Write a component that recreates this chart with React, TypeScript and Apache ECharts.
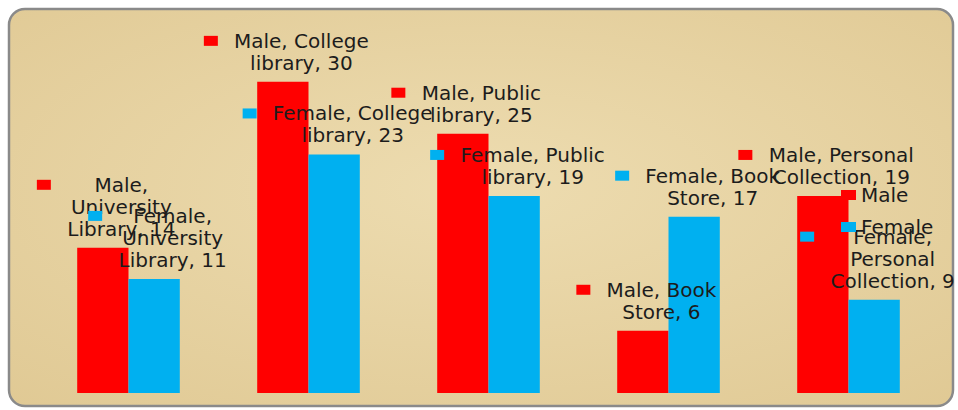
import React, { useEffect, useRef } from "react";
import * as echarts from "echarts";

const categories = ["University Library", "College library", "Public library", "Book Store", "Personal Collection"];
const seriesNames = ["Male", "Female"];
const maleValues = [14, 30, 25, 6, 19];
const femaleValues = [11, 23, 19, 17, 9];
const yMax = 35;

const COLORS = ["#ff0000", "#00b0f0"];
const FONT_FAMILY = "DejaVu Sans";
const FONT_SIZE = 20;
const WRAP_CHARS = 15;

function wrapWords(text: string, max: number): string[] {
  const words = text.split(" ");
  const lines: string[] = [];
  let cur = "";
  for (const w of words) {
    if (!cur) cur = w;
    else if ((cur + " " + w).length <= max) cur = cur + " " + w;
    else {
      lines.push(cur);
      cur = w;
    }
  }
  if (cur) lines.push(cur);
  return lines;
}

let measureCtx: CanvasRenderingContext2D | null = null;
function measure(text: string): number {
  if (!measureCtx) {
    const c = document.createElement("canvas");
    measureCtx = c.getContext("2d");
  }
  if (!measureCtx) return text.length * FONT_SIZE * 0.6;
  measureCtx.font = `${FONT_SIZE}px "${FONT_FAMILY}"`;
  return measureCtx.measureText(text).width;
}

function buildItem(seriesName: string, cat: string, value: number, color: string) {
  const lines = wrapWords(`${seriesName}, ${cat}, ${value}`, WRAP_CHARS);
  const blockW = Math.ceil(Math.max(...lines.map(measure))) + 2;
  const formatter = lines
    .map((l, i) => (i === 0 ? "{k|}{g|}" : "{s|}") + `{t|${l}}`)
    .join("\n");
  return {
    value,
    label: {
      formatter,
      rich: {
        k: { width: 14, height: 10, backgroundColor: color, verticalAlign: "middle", lineHeight: 22 },
        g: { width: 15, lineHeight: 22 },
        s: { width: 29, lineHeight: 22 },
        t: {
          width: blockW,
          align: "center",
          fontFamily: FONT_FAMILY,
          fontSize: FONT_SIZE,
          color: "#1c1c1c",
          lineHeight: 22,
        },
      },
    },
  };
}

export default function App() {
  const ref = useRef<HTMLDivElement>(null);
  useEffect(() => {
    if (!ref.current) return;
    const chart = echarts.init(ref.current, undefined, { renderer: "svg" });
    const valueSets = [maleValues, femaleValues];
    chart.setOption({
      animation: false,
      backgroundColor: "#ffffff",
      graphic: [
        {
          type: "rect",
          z: -10,
          silent: true,
          shape: { x: 9, y: 9, width: 944, height: 397, r: 16 },
          style: {
            fill: {
              type: "radial",
              x: 0.5,
              y: 0.45,
              r: 0.75,
              colorStops: [
                { offset: 0, color: "#eddcb0" },
                { offset: 1, color: "#e0c994" },
              ],
            },
            stroke: "#8a8a8a",
            lineWidth: 2.5,
          },
        },
      ],
      grid: { left: 38.5, right: 19.5, top: 30, bottom: 17 },
      legend: {
        orient: "vertical",
        left: 836,
        top: 180,
        itemWidth: 15,
        itemHeight: 10,
        itemGap: 12,
        icon: "rect",
        textStyle: { fontFamily: FONT_FAMILY, fontSize: FONT_SIZE, color: "#1c1c1c" },
        data: seriesNames,
      },
      xAxis: {
        type: "category",
        data: categories,
        show: false,
      },
      yAxis: {
        type: "value",
        min: 0,
        max: yMax,
        show: false,
      },
      series: seriesNames.map((name, si) => ({
        name,
        type: "bar",
        barGap: "0%",
        barCategoryGap: "43%",
        itemStyle: { color: COLORS[si] },
        label: {
          show: true,
          position: "top",
          distance: 8,
          offset: [4, 0],
        },
        data: valueSets[si].map((v, ci) => buildItem(name, categories[ci], v, COLORS[si])),
      })),
    });
    return () => chart.dispose();
  }, []);
  return (
    <div
      ref={ref}
      style={{ position: "fixed", left: 0, top: 0, width: 958, height: 410 }}
    />
  );
}
